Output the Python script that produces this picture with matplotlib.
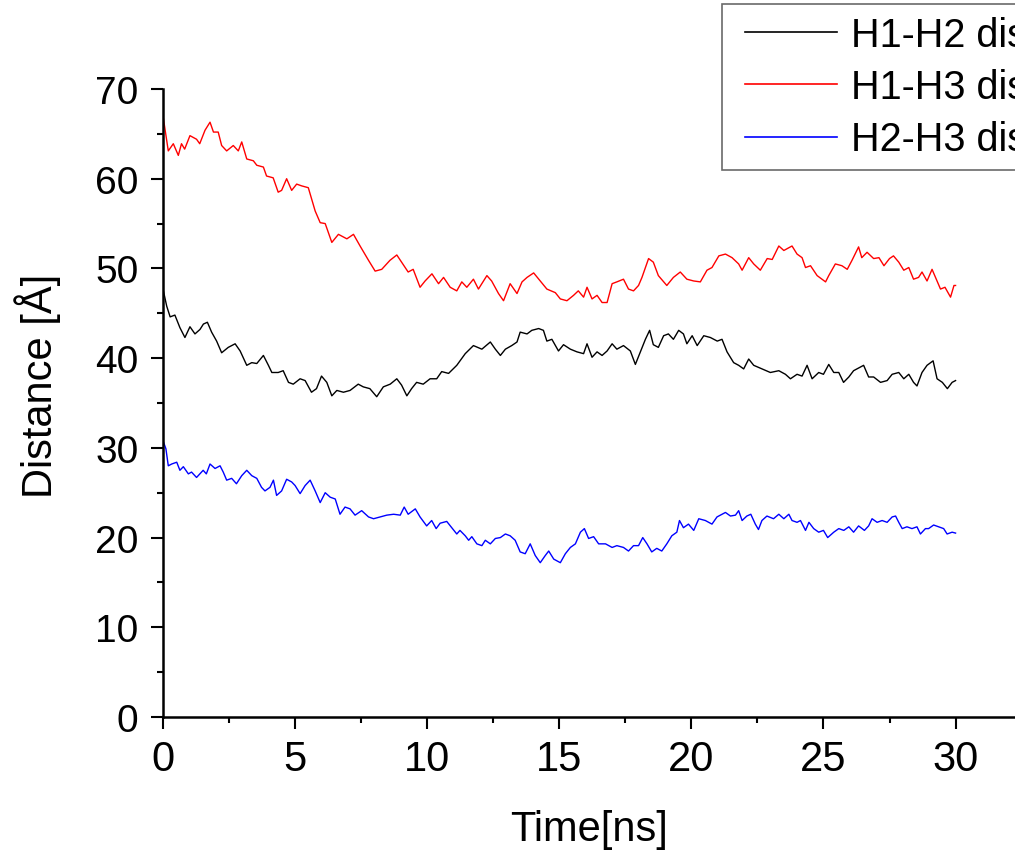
import matplotlib

matplotlib.use("Agg")
import matplotlib.pyplot as plt
from matplotlib.legend_handler import HandlerLine2D
from matplotlib.ticker import MultipleLocator

# values (time in ns, distance in angstrom)
time_h1h3 = [
    0, 0.2, 0.39, 0.58, 0.70, 0.82, 1.02, 1.27, 1.39, 1.59, 1.78, 1.91, 2.09,
    2.22, 2.41, 2.66, 2.85, 2.98, 3.17, 3.42, 3.55, 3.80, 3.92, 4.17, 4.36,
    4.49, 4.68, 4.87, 5.06, 5.25, 5.50, 5.76, 5.95, 6.14, 6.39, 6.64, 6.96,
    7.21, 7.46, 7.78, 8.03, 8.28, 8.59, 8.85, 9.03, 9.28, 9.47, 9.73, 9.92,
    10.18, 10.43, 10.62, 10.87, 11.12, 11.31, 11.50, 11.75, 11.94, 12.26,
    12.44, 12.70, 12.89, 13.14, 13.40, 13.59, 13.78, 14.03, 14.28, 14.53,
    14.85, 15.04, 15.29, 15.54, 15.72, 15.92, 16.05, 16.24, 16.43, 16.62,
    16.81, 17.00, 17.18, 17.43, 17.62, 17.81, 18.00, 18.13, 18.38, 18.56,
    18.75, 19.07, 19.32, 19.58, 19.83, 20.09, 20.34, 20.59, 20.78, 21.04,
    21.29, 21.54, 21.79, 21.92, 22.17, 22.36, 22.61, 22.87, 23.06, 23.31,
    23.50, 23.69, 23.81, 24.00, 24.19, 24.32, 24.51, 24.76, 24.94, 25.08,
    25.20, 25.45, 25.70, 25.90, 26.08, 26.33, 26.45, 26.65, 26.90, 27.10,
    27.29, 27.50, 27.65, 27.85, 28.04, 28.23, 28.41, 28.60, 28.73, 28.92,
    29.11, 29.24, 29.43, 29.60, 29.81, 29.94, 30.00,
]
dist_h1h3 = [
    67.0, 63.1, 63.9, 62.6, 63.9, 63.3, 64.8, 64.4, 63.9, 65.4, 66.3, 65.2, 65.2,
    63.7, 63.1, 63.7, 63.1, 64.1, 62.2, 62.0, 61.5, 61.3, 60.3, 60.1, 58.5,
    58.7, 60.0, 58.7, 59.4, 59.2, 59.0, 56.4, 55.1, 55.0, 52.9, 53.8, 53.3,
    53.8, 52.5, 50.9, 49.7, 49.9, 50.9, 51.5, 50.7, 49.6, 49.9, 47.9, 48.6,
    49.4, 48.3, 49.0, 47.9, 47.5, 48.5, 47.9, 48.8, 47.7, 49.2,
    48.6, 47.2, 46.4, 48.3, 47.2, 48.5, 49.0, 49.5, 48.6, 47.7,
    47.3, 46.6, 46.4, 47.0, 47.5, 46.8, 47.9, 46.6, 47.0, 46.2,
    46.2, 48.3, 48.5, 48.8, 47.7, 47.5, 48.1, 49.0, 51.1, 50.7,
    49.2, 48.1, 49.0, 49.6, 48.8, 48.6, 48.5, 49.8, 50.1, 51.4,
    51.6, 51.2, 50.5, 49.8, 51.2, 50.5, 49.8, 51.1, 51.0, 52.5,
    52.0, 52.3, 52.5, 51.6, 51.2, 50.1, 50.3, 49.2, 48.8, 48.5,
    49.2, 50.5, 50.3, 49.9, 50.9, 52.4, 51.2, 51.8, 51.1, 51.2,
    50.3, 51.1, 51.4, 50.7, 49.8, 50.1, 48.8, 49.0, 49.6, 48.6,
    49.9, 49.0, 47.7, 47.9, 46.8, 48.1, 48.1,
]

time_h1h2 = [
    0, 0.14, 0.27, 0.45, 0.64, 0.83, 1.02, 1.21, 1.40, 1.53, 1.68, 1.84, 2.03,
    2.22, 2.47, 2.73, 2.92, 3.17, 3.36, 3.55, 3.80, 3.99, 4.12, 4.36, 4.55,
    4.75, 4.93, 5.19, 5.38, 5.62, 5.81, 6.00, 6.20, 6.39, 6.58, 6.83, 7.08,
    7.39, 7.58, 7.83, 8.09, 8.34, 8.60, 8.85, 9.03, 9.23, 9.41, 9.60, 9.85,
    10.11, 10.36, 10.55, 10.81, 11.12, 11.44, 11.75, 12.07, 12.39, 12.58,
    12.77, 12.96, 13.20, 13.40, 13.52, 13.78, 13.96, 14.22, 14.40, 14.53,
    14.72, 14.97, 15.16, 15.42, 15.67, 15.92, 16.05, 16.24, 16.43, 16.62,
    16.81, 17.00, 17.18, 17.43, 17.69, 17.88, 18.07, 18.26, 18.42, 18.56,
    18.75, 18.95, 19.13, 19.32, 19.52, 19.70, 19.83, 20.03, 20.22, 20.47,
    20.72, 20.98, 21.16, 21.35, 21.60, 21.79, 21.98, 22.17, 22.36, 22.67,
    22.99, 23.31, 23.56, 23.75, 24.00, 24.19, 24.38, 24.57, 24.82, 25.00,
    25.20, 25.39, 25.58, 25.76, 25.96, 26.14, 26.33, 26.52, 26.71, 26.90,
    27.16, 27.41, 27.60, 27.85, 28.04, 28.23, 28.41, 28.54, 28.73, 28.92,
    29.15, 29.30, 29.50, 29.69, 29.87, 30.00,
]
dist_h1h2 = [
    47.7, 45.8, 44.6, 44.8, 43.4, 42.3, 43.5, 42.7, 43.2, 43.8, 44.0, 42.9, 41.9,
    40.6, 41.2, 41.6, 40.8, 39.2, 39.5, 39.4, 40.3, 39.2, 38.4, 38.4, 38.6,
    37.3, 37.1, 37.7, 37.5, 36.2, 36.6, 38.0, 37.3, 35.8, 36.4, 36.2, 36.4,
    37.1, 36.8, 36.6, 35.7, 36.8, 37.1, 37.7, 37.0, 35.8, 36.6, 37.3, 37.1,
    37.7, 37.7, 38.5, 38.3, 39.2, 40.5, 41.4, 41.0, 41.8, 41.0,
    40.3, 41.0, 41.4, 41.8, 42.9, 42.7, 43.1, 43.3, 43.1, 41.9,
    42.1, 40.8, 41.5, 41.0, 40.7, 40.5, 41.6, 40.1, 40.7, 40.3,
    40.8, 41.6, 41.0, 41.4, 40.8, 39.3, 40.7, 42.1, 43.1, 41.5,
    41.2, 42.5, 42.7, 42.1, 43.1, 42.7, 41.6, 42.5, 41.4, 42.5,
    42.3, 41.9, 42.1, 40.7, 39.5, 39.2, 38.8, 39.9, 39.2, 38.8,
    38.4, 38.6, 38.2, 37.7, 38.2, 38.0, 39.2, 37.7, 38.4, 38.2,
    39.3, 38.4, 38.4, 37.3, 37.9, 38.6, 38.9, 39.2, 37.9, 37.9,
    37.3, 37.5, 38.2, 38.4, 37.7, 38.2, 37.3, 36.9, 38.4, 39.2,
    39.7, 37.7, 37.3, 36.6, 37.3, 37.5,
]

time_h2h3 = [
    0, 0.11, 0.20, 0.33, 0.52, 0.64, 0.77, 0.96, 1.08, 1.27, 1.52, 1.64, 1.78,
    1.97, 2.16, 2.28, 2.41, 2.60, 2.78, 2.98, 3.17, 3.36, 3.55, 3.73, 3.86,
    4.05, 4.18, 4.30, 4.49, 4.68, 4.87, 5.00, 5.19, 5.38, 5.57, 5.76, 5.95,
    6.14, 6.33, 6.52, 6.70, 6.89, 7.08, 7.27, 7.52, 7.78, 7.97, 8.22, 8.47,
    8.73, 8.98, 9.13, 9.28, 9.55, 9.73, 9.98, 10.17, 10.34, 10.49, 10.74,
    10.93, 11.12, 11.24, 11.44, 11.57, 11.69, 11.88, 12.07, 12.20, 12.39,
    12.58, 12.77, 12.96, 13.14, 13.33, 13.52, 13.71, 13.90, 14.09, 14.28,
    14.47, 14.60, 14.79, 15.04, 15.23, 15.42, 15.61, 15.80, 15.95, 16.11,
    16.30, 16.49, 16.75, 17.00, 17.18, 17.43, 17.62, 17.81, 18.00, 18.16,
    18.32, 18.50, 18.69, 18.88, 19.07, 19.26, 19.45, 19.55, 19.70, 19.89,
    20.09, 20.28, 20.53, 20.78, 20.97, 21.29, 21.48, 21.67, 21.79, 21.92,
    22.10, 22.25, 22.42, 22.54, 22.67, 22.86, 23.11, 23.31, 23.50, 23.69,
    23.81, 24.00, 24.13, 24.32, 24.45, 24.63, 24.82, 25.00, 25.16, 25.39,
    25.58, 25.77, 25.96, 26.14, 26.33, 26.55, 26.71, 26.84, 27.03, 27.22,
    27.41, 27.60, 27.73, 27.85, 27.98, 28.16, 28.35, 28.54, 28.67, 28.86,
    28.98, 29.17, 29.36, 29.55, 29.68, 29.87, 30.00,
]
dist_h2h3 = [
    30.8, 29.9, 28.0, 28.2, 28.4, 27.5, 27.9, 27.1, 27.3, 26.7, 27.5, 27.1, 28.2,
    27.7, 28.0, 27.3, 26.4, 26.6, 26.0, 26.9, 27.5, 26.9, 26.6, 25.6, 25.2,
    25.6, 26.4, 24.7, 25.2, 26.5, 26.2, 25.8, 24.9, 25.8, 26.4, 25.2, 23.9,
    25.0, 24.5, 24.3, 22.6, 23.4, 23.2, 22.5, 23.0, 22.3, 22.1, 22.3, 22.5,
    22.6, 22.5, 23.4, 22.6, 23.2, 22.3, 21.3, 21.9, 21.0, 21.6, 21.8,
    21.1, 20.4, 20.8, 20.2, 19.7, 20.1, 19.3, 19.1, 19.7, 19.3,
    19.9, 20.0, 20.4, 20.2, 19.7, 18.4, 18.2, 19.3, 18.0, 17.2,
    18.0, 18.5, 17.6, 17.2, 18.2, 18.9, 19.3, 20.6, 21.0, 19.9,
    20.1, 19.3, 19.3, 18.9, 19.1, 18.9, 18.5, 19.1, 19.1, 20.0,
    19.3, 18.4, 18.8, 18.5, 19.3, 20.2, 20.6, 21.9, 21.1, 21.5,
    20.8, 22.1, 21.9, 21.5, 22.3, 22.8, 22.4, 22.5, 23.0, 21.9,
    22.4, 22.6, 21.5, 20.9, 21.9, 22.4, 22.1, 22.6, 22.1, 22.6,
    21.9, 21.7, 21.9, 20.8, 21.7, 21.0, 20.6, 20.8, 20.0, 20.6,
    21.0, 20.8, 21.2, 20.6, 21.3, 20.8, 21.3, 22.1, 21.7, 21.9,
    21.7, 22.3, 22.4, 21.7, 21.0, 21.2, 21.0, 21.2, 20.4, 21.0,
    21.0, 21.4, 21.2, 21.0, 20.4, 20.6, 20.5,
]

series_labels = ["H1-H2 distance", "H1-H3 distance", "H2-H3 distance"]
series_colors = ["black", "red", "blue"]

plt.rcParams["font.family"] = ["Liberation Sans", "DejaVu Sans"]

fig = plt.figure(figsize=(10.15, 8.53), dpi=100)
ax = fig.add_axes([163 / 1015, 135 / 853, 852 / 1015, 628 / 853])

ax.plot(time_h1h2, dist_h1h2, color=series_colors[0], linewidth=1.0, label=series_labels[0])
ax.plot(time_h1h3, dist_h1h3, color=series_colors[1], linewidth=1.0, label=series_labels[1])
ax.plot(time_h2h3, dist_h2h3, color=series_colors[2], linewidth=1.0, label=series_labels[2])

ax.set_xlim(0, 32.25)
ax.set_ylim(0, 70)

# axis look: only left and bottom spines, ticks pointing out
ax.spines["top"].set_visible(False)
ax.spines["right"].set_visible(False)
for side in ["left", "bottom"]:
    ax.spines[side].set_linewidth(1.8)
ax.xaxis.set_major_locator(MultipleLocator(5))
ax.xaxis.set_minor_locator(MultipleLocator(2.5))
ax.yaxis.set_major_locator(MultipleLocator(10))
ax.yaxis.set_minor_locator(MultipleLocator(5))
ax.tick_params(which="major", direction="out", length=8.6, width=1.5)
ax.tick_params(which="minor", direction="out", length=4.3, width=1.5)
ax.tick_params(axis="x", which="major", labelsize=30, pad=7)
ax.tick_params(axis="y", which="major", labelsize=28, pad=9)

ax.set_xlabel("Time[ns]", fontsize=30, labelpad=22)
ax.set_ylabel("Distance [Å]", fontsize=30)
ax.yaxis.set_label_coords((61 - 163) / 852, (718 - 386) / 628)

# legend sits in the top right corner and runs off the figure, as in the source
leg = ax.legend(
    loc="upper left",
    bbox_to_anchor=(722 / 1015, 1 - 5 / 853),
    bbox_transform=fig.transFigure,
    fontsize=28.5,
    frameon=True,
    fancybox=False,
    borderpad=0.3,
    borderaxespad=0,
    handlelength=2.6,
    handletextpad=0.35,
    labelspacing=0.36,
    handler_map={line: HandlerLine2D(xpad=0.27) for line in ax.get_lines()},
)
leg.get_frame().set_edgecolor("#444444")
leg.get_frame().set_linewidth(1.2)
for line in leg.get_lines():
    line.set_linewidth(1.2)

fig.savefig("out.png", dpi=100)
